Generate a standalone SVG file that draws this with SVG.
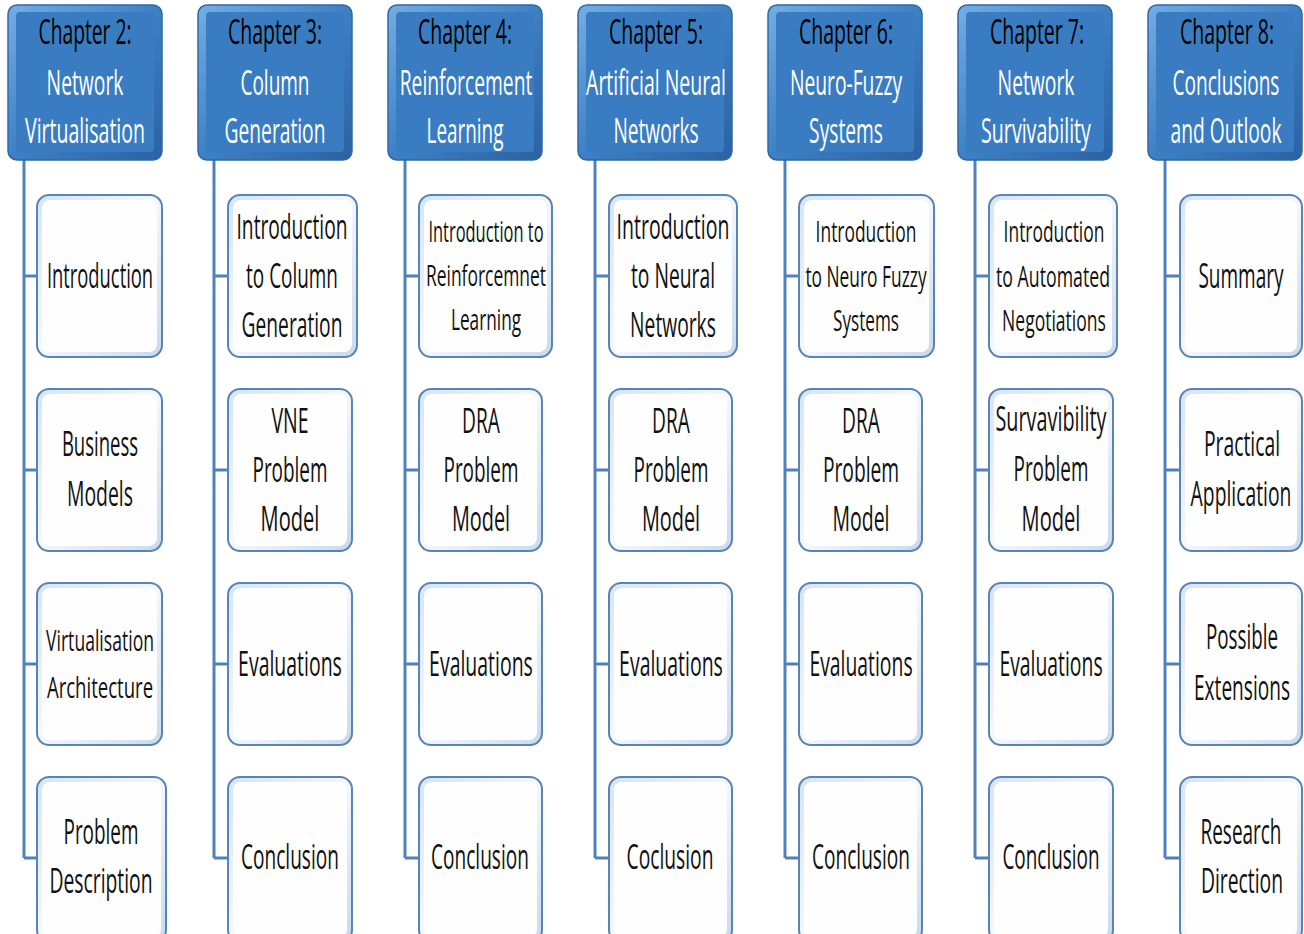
<svg xmlns="http://www.w3.org/2000/svg" width="1304" height="934" viewBox="0 0 1304 934">
<defs>
<linearGradient id="hg" x1="0" y1="0" x2="1" y2="1">
<stop offset="0" stop-color="#74aee3"/>
<stop offset="0.5" stop-color="#3d80c4"/>
<stop offset="1" stop-color="#2a62a3"/>
</linearGradient>
<linearGradient id="cg" x1="0" y1="0" x2="1" y2="1">
<stop offset="0" stop-color="#d6e4f3"/>
<stop offset="0.5" stop-color="#f4f8fc"/>
<stop offset="1" stop-color="#c9d9ec"/>
</linearGradient>
</defs>
<style>
.ho{fill:url(#hg);stroke:#2f68a8;stroke-width:1.5}
.hi{fill:#3a7cc1}
.co{fill:url(#cg);stroke:#5a84b6;stroke-width:2}
.ci{fill:#fefefe}
.t{font-family:"Open Sans","Liberation Sans",sans-serif;font-size:34px;text-anchor:middle;fill:#111}
.s{font-size:30px}
.w{fill:#fff}
.k{fill:#000}
.ln{stroke:#4f81bd;stroke-width:3;fill:none}
</style>
<rect width="1304" height="934" fill="#fff"/>
<g id="connectors">
<path class="ln" d="M24 160V858M24 276H37M24 470H37M24 664H37M24 858H37"/>
<path class="ln" d="M214 160V858M214 276H228M214 470H228M214 664H228M214 858H228"/>
<path class="ln" d="M405 160V858M405 276H419M405 470H419M405 664H419M405 858H419"/>
<path class="ln" d="M595 160V858M595 276H609M595 470H609M595 664H609M595 858H609"/>
<path class="ln" d="M785 160V858M785 276H799M785 470H799M785 664H799M785 858H799"/>
<path class="ln" d="M975 160V858M975 276H989M975 470H989M975 664H989M975 858H989"/>
<path class="ln" d="M1165 160V858M1165 276H1180M1165 470H1180M1165 664H1180M1165 858H1180"/>
</g>
<!-- Headers -->
<g id="h2"><rect class="ho" x="8" y="5" width="154" height="155" rx="9"/><rect class="hi" x="16" y="12" width="138" height="140" rx="4"/>
<text class="t k" transform="matrix(0.6 0 0 1 85 0)" y="44" textLength="155" lengthAdjust="spacingAndGlyphs">Chapter 2:</text>
<text class="t w" transform="matrix(0.6 0 0 1 85 0)" y="95" textLength="128" lengthAdjust="spacingAndGlyphs">Network</text>
<text class="t w" transform="matrix(0.6 0 0 1 85 0)" y="143" textLength="200" lengthAdjust="spacingAndGlyphs">Virtualisation</text></g>
<g id="h3"><rect class="ho" x="198" y="5" width="154" height="155" rx="9"/><rect class="hi" x="206" y="12" width="138" height="140" rx="4"/>
<text class="t k" transform="matrix(0.6 0 0 1 275 0)" y="44" textLength="157" lengthAdjust="spacingAndGlyphs">Chapter 3:</text>
<text class="t w" transform="matrix(0.6 0 0 1 275 0)" y="95" textLength="115" lengthAdjust="spacingAndGlyphs">Column</text>
<text class="t w" transform="matrix(0.6 0 0 1 275 0)" y="143" textLength="168" lengthAdjust="spacingAndGlyphs">Generation</text></g>
<g id="h4"><rect class="ho" x="388" y="5" width="154" height="155" rx="9"/><rect class="hi" x="396" y="12" width="138" height="140" rx="4"/>
<text class="t k" transform="matrix(0.6 0 0 1 465 0)" y="44" textLength="157" lengthAdjust="spacingAndGlyphs">Chapter 4:</text>
<text class="t w" transform="matrix(0.6 0 0 1 466 0)" y="95" textLength="221" lengthAdjust="spacingAndGlyphs">Reinforcement</text>
<text class="t w" transform="matrix(0.6 0 0 1 465 0)" y="143" textLength="128" lengthAdjust="spacingAndGlyphs">Learning</text></g>
<g id="h5"><rect class="ho" x="578" y="5" width="154" height="155" rx="9"/><rect class="hi" x="586" y="12" width="138" height="140" rx="4"/>
<text class="t k" transform="matrix(0.6 0 0 1 656 0)" y="44" textLength="157" lengthAdjust="spacingAndGlyphs">Chapter 5:</text>
<text class="t w" transform="matrix(0.6 0 0 1 656 0)" y="95" textLength="233" lengthAdjust="spacingAndGlyphs">Artificial Neural</text>
<text class="t w" transform="matrix(0.6 0 0 1 656 0)" y="143" textLength="142" lengthAdjust="spacingAndGlyphs">Networks</text></g>
<g id="h6"><rect class="ho" x="768" y="5" width="154" height="155" rx="9"/><rect class="hi" x="776" y="12" width="138" height="140" rx="4"/>
<text class="t k" transform="matrix(0.6 0 0 1 846 0)" y="44" textLength="157" lengthAdjust="spacingAndGlyphs">Chapter 6:</text>
<text class="t w" transform="matrix(0.6 0 0 1 846 0)" y="95" textLength="187" lengthAdjust="spacingAndGlyphs">Neuro-Fuzzy</text>
<text class="t w" transform="matrix(0.6 0 0 1 846 0)" y="143" textLength="123" lengthAdjust="spacingAndGlyphs">Systems</text></g>
<g id="h7"><rect class="ho" x="958" y="5" width="154" height="155" rx="9"/><rect class="hi" x="966" y="12" width="138" height="140" rx="4"/>
<text class="t k" transform="matrix(0.6 0 0 1 1037 0)" y="44" textLength="157" lengthAdjust="spacingAndGlyphs">Chapter 7:</text>
<text class="t w" transform="matrix(0.6 0 0 1 1036 0)" y="95" textLength="128" lengthAdjust="spacingAndGlyphs">Network</text>
<text class="t w" transform="matrix(0.6 0 0 1 1036 0)" y="143" textLength="183" lengthAdjust="spacingAndGlyphs">Survivability</text></g>
<g id="h8"><rect class="ho" x="1148" y="5" width="154" height="155" rx="9"/><rect class="hi" x="1156" y="12" width="138" height="140" rx="4"/>
<text class="t k" transform="matrix(0.6 0 0 1 1227 0)" y="44" textLength="157" lengthAdjust="spacingAndGlyphs">Chapter 8:</text>
<text class="t w" transform="matrix(0.6 0 0 1 1226 0)" y="95" textLength="178" lengthAdjust="spacingAndGlyphs">Conclusions</text>
<text class="t w" transform="matrix(0.6 0 0 1 1226 0)" y="143" textLength="185" lengthAdjust="spacingAndGlyphs">and Outlook</text></g>
<!-- Column 1 children -->
<g id="c2-1"><rect class="co" x="37" y="195" width="125" height="162" rx="12"/><rect class="ci" x="42" y="200" width="115" height="152" rx="8"/>
<text class="t" transform="matrix(0.6 0 0 1 100 0)" y="288" textLength="177" lengthAdjust="spacingAndGlyphs">Introduction</text></g>
<g id="c2-2"><rect class="co" x="37" y="389" width="125" height="162" rx="12"/><rect class="ci" x="42" y="394" width="115" height="152" rx="8"/>
<text class="t" transform="matrix(0.6 0 0 1 100 0)" y="456" textLength="127" lengthAdjust="spacingAndGlyphs">Business</text>
<text class="t" transform="matrix(0.6 0 0 1 100 0)" y="506" textLength="110" lengthAdjust="spacingAndGlyphs">Models</text></g>
<g id="c2-3"><rect class="co" x="37" y="583" width="125" height="162" rx="12"/><rect class="ci" x="42" y="588" width="115" height="152" rx="8"/>
<text class="t s" transform="matrix(0.6 0 0 1 100 0)" y="651" textLength="180" lengthAdjust="spacingAndGlyphs">Virtualisation</text>
<text class="t s" transform="matrix(0.6 0 0 1 100 0)" y="698" textLength="177" lengthAdjust="spacingAndGlyphs">Architecture</text></g>
<g id="c2-4"><rect class="co" x="37" y="777" width="129" height="165" rx="12"/><rect class="ci" x="42" y="782" width="119" height="155" rx="8"/>
<text class="t" transform="matrix(0.6 0 0 1 101 0)" y="844" textLength="125" lengthAdjust="spacingAndGlyphs">Problem</text>
<text class="t" transform="matrix(0.6 0 0 1 101 0)" y="893" textLength="172" lengthAdjust="spacingAndGlyphs">Description</text></g>
<!-- Column 2 children -->
<g id="c3-1"><rect class="co" x="228" y="195" width="129" height="162" rx="12"/><rect class="ci" x="233" y="200" width="119" height="152" rx="8"/>
<text class="t" transform="matrix(0.6 0 0 1 292 0)" y="239" textLength="185" lengthAdjust="spacingAndGlyphs">Introduction</text>
<text class="t" transform="matrix(0.6 0 0 1 292 0)" y="288" textLength="153" lengthAdjust="spacingAndGlyphs">to Column</text>
<text class="t" transform="matrix(0.6 0 0 1 292 0)" y="337" textLength="168" lengthAdjust="spacingAndGlyphs">Generation</text></g>
<g id="c3-2"><rect class="co" x="228" y="389" width="124" height="162" rx="12"/><rect class="ci" x="233" y="394" width="114" height="152" rx="8"/>
<text class="t" transform="matrix(0.6 0 0 1 290 0)" y="433" textLength="62" lengthAdjust="spacingAndGlyphs">VNE</text>
<text class="t" transform="matrix(0.6 0 0 1 290 0)" y="482" textLength="125" lengthAdjust="spacingAndGlyphs">Problem</text>
<text class="t" transform="matrix(0.6 0 0 1 290 0)" y="531" textLength="98" lengthAdjust="spacingAndGlyphs">Model</text></g>
<g id="c3-3"><rect class="co" x="228" y="583" width="124" height="162" rx="12"/><rect class="ci" x="233" y="588" width="114" height="152" rx="8"/>
<text class="t" transform="matrix(0.6 0 0 1 290 0)" y="676" textLength="173" lengthAdjust="spacingAndGlyphs">Evaluations</text></g>
<g id="c3-4"><rect class="co" x="228" y="777" width="124" height="165" rx="12"/><rect class="ci" x="233" y="782" width="114" height="155" rx="8"/>
<text class="t" transform="matrix(0.6 0 0 1 290 0)" y="869" textLength="163" lengthAdjust="spacingAndGlyphs">Conclusion</text></g>
<!-- Column 3 children -->
<g id="c4-1"><rect class="co" x="419" y="195" width="133" height="162" rx="12"/><rect class="ci" x="424" y="200" width="123" height="152" rx="8"/>
<text class="t s" transform="matrix(0.6 0 0 1 486 0)" y="242" textLength="192" lengthAdjust="spacingAndGlyphs">Introduction to</text>
<text class="t s" transform="matrix(0.6 0 0 1 486 0)" y="286" textLength="200" lengthAdjust="spacingAndGlyphs">Reinforcemnet</text>
<text class="t s" transform="matrix(0.6 0 0 1 486 0)" y="330" textLength="117" lengthAdjust="spacingAndGlyphs">Learning</text></g>
<g id="c4-2"><rect class="co" x="419" y="389" width="123" height="162" rx="12"/><rect class="ci" x="424" y="394" width="113" height="152" rx="8"/>
<text class="t" transform="matrix(0.6 0 0 1 481 0)" y="433" textLength="63" lengthAdjust="spacingAndGlyphs">DRA</text>
<text class="t" transform="matrix(0.6 0 0 1 481 0)" y="482" textLength="125" lengthAdjust="spacingAndGlyphs">Problem</text>
<text class="t" transform="matrix(0.6 0 0 1 481 0)" y="531" textLength="97" lengthAdjust="spacingAndGlyphs">Model</text></g>
<g id="c4-3"><rect class="co" x="419" y="583" width="123" height="162" rx="12"/><rect class="ci" x="424" y="588" width="113" height="152" rx="8"/>
<text class="t" transform="matrix(0.6 0 0 1 481 0)" y="676" textLength="173" lengthAdjust="spacingAndGlyphs">Evaluations</text></g>
<g id="c4-4"><rect class="co" x="419" y="777" width="123" height="165" rx="12"/><rect class="ci" x="424" y="782" width="113" height="155" rx="8"/>
<text class="t" transform="matrix(0.6 0 0 1 480 0)" y="869" textLength="163" lengthAdjust="spacingAndGlyphs">Conclusion</text></g>
<!-- Column 4 children -->
<g id="c5-1"><rect class="co" x="609" y="195" width="128" height="162" rx="12"/><rect class="ci" x="614" y="200" width="118" height="152" rx="8"/>
<text class="t" transform="matrix(0.6 0 0 1 673 0)" y="239" textLength="188" lengthAdjust="spacingAndGlyphs">Introduction</text>
<text class="t" transform="matrix(0.6 0 0 1 673 0)" y="288" textLength="140" lengthAdjust="spacingAndGlyphs">to Neural</text>
<text class="t" transform="matrix(0.6 0 0 1 673 0)" y="337" textLength="143" lengthAdjust="spacingAndGlyphs">Networks</text></g>
<g id="c5-2"><rect class="co" x="609" y="389" width="123" height="162" rx="12"/><rect class="ci" x="614" y="394" width="113" height="152" rx="8"/>
<text class="t" transform="matrix(0.6 0 0 1 671 0)" y="433" textLength="63" lengthAdjust="spacingAndGlyphs">DRA</text>
<text class="t" transform="matrix(0.6 0 0 1 671 0)" y="482" textLength="125" lengthAdjust="spacingAndGlyphs">Problem</text>
<text class="t" transform="matrix(0.6 0 0 1 671 0)" y="531" textLength="97" lengthAdjust="spacingAndGlyphs">Model</text></g>
<g id="c5-3"><rect class="co" x="609" y="583" width="123" height="162" rx="12"/><rect class="ci" x="614" y="588" width="113" height="152" rx="8"/>
<text class="t" transform="matrix(0.6 0 0 1 671 0)" y="676" textLength="173" lengthAdjust="spacingAndGlyphs">Evaluations</text></g>
<g id="c5-4"><rect class="co" x="609" y="777" width="123" height="165" rx="12"/><rect class="ci" x="614" y="782" width="113" height="155" rx="8"/>
<text class="t" transform="matrix(0.6 0 0 1 670 0)" y="869" textLength="145" lengthAdjust="spacingAndGlyphs">Coclusion</text></g>
<!-- Column 5 children -->
<g id="c6-1"><rect class="co" x="799" y="195" width="135" height="162" rx="12"/><rect class="ci" x="804" y="200" width="125" height="152" rx="8"/>
<text class="t s" transform="matrix(0.6 0 0 1 866 0)" y="242" textLength="168" lengthAdjust="spacingAndGlyphs">Introduction</text>
<text class="t s" transform="matrix(0.6 0 0 1 866 0)" y="287" textLength="202" lengthAdjust="spacingAndGlyphs">to Neuro Fuzzy</text>
<text class="t s" transform="matrix(0.6 0 0 1 866 0)" y="331" textLength="110" lengthAdjust="spacingAndGlyphs">Systems</text></g>
<g id="c6-2"><rect class="co" x="799" y="389" width="123" height="162" rx="12"/><rect class="ci" x="804" y="394" width="113" height="152" rx="8"/>
<text class="t" transform="matrix(0.6 0 0 1 861 0)" y="433" textLength="63" lengthAdjust="spacingAndGlyphs">DRA</text>
<text class="t" transform="matrix(0.6 0 0 1 861 0)" y="482" textLength="127" lengthAdjust="spacingAndGlyphs">Problem</text>
<text class="t" transform="matrix(0.6 0 0 1 861 0)" y="531" textLength="95" lengthAdjust="spacingAndGlyphs">Model</text></g>
<g id="c6-3"><rect class="co" x="799" y="583" width="123" height="162" rx="12"/><rect class="ci" x="804" y="588" width="113" height="152" rx="8"/>
<text class="t" transform="matrix(0.6 0 0 1 861 0)" y="676" textLength="172" lengthAdjust="spacingAndGlyphs">Evaluations</text></g>
<g id="c6-4"><rect class="co" x="799" y="777" width="123" height="165" rx="12"/><rect class="ci" x="804" y="782" width="113" height="155" rx="8"/>
<text class="t" transform="matrix(0.6 0 0 1 861 0)" y="869" textLength="163" lengthAdjust="spacingAndGlyphs">Conclusion</text></g>
<!-- Column 6 children -->
<g id="c7-1"><rect class="co" x="989" y="195" width="128" height="162" rx="12"/><rect class="ci" x="994" y="200" width="118" height="152" rx="8"/>
<text class="t s" transform="matrix(0.6 0 0 1 1054 0)" y="242" textLength="168" lengthAdjust="spacingAndGlyphs">Introduction</text>
<text class="t s" transform="matrix(0.6 0 0 1 1053 0)" y="287" textLength="190" lengthAdjust="spacingAndGlyphs">to Automated</text>
<text class="t s" transform="matrix(0.6 0 0 1 1054 0)" y="331" textLength="173" lengthAdjust="spacingAndGlyphs">Negotiations</text></g>
<g id="c7-2"><rect class="co" x="989" y="389" width="124" height="162" rx="12"/><rect class="ci" x="994" y="394" width="114" height="152" rx="8"/>
<text class="t" transform="matrix(0.6 0 0 1 1051 0)" y="431" textLength="185" lengthAdjust="spacingAndGlyphs">Survavibility</text>
<text class="t" transform="matrix(0.6 0 0 1 1051 0)" y="481" textLength="125" lengthAdjust="spacingAndGlyphs">Problem</text>
<text class="t" transform="matrix(0.6 0 0 1 1051 0)" y="531" textLength="98" lengthAdjust="spacingAndGlyphs">Model</text></g>
<g id="c7-3"><rect class="co" x="989" y="583" width="124" height="162" rx="12"/><rect class="ci" x="994" y="588" width="114" height="152" rx="8"/>
<text class="t" transform="matrix(0.6 0 0 1 1051 0)" y="676" textLength="172" lengthAdjust="spacingAndGlyphs">Evaluations</text></g>
<g id="c7-4"><rect class="co" x="989" y="777" width="124" height="165" rx="12"/><rect class="ci" x="994" y="782" width="114" height="155" rx="8"/>
<text class="t" transform="matrix(0.6 0 0 1 1051 0)" y="869" textLength="162" lengthAdjust="spacingAndGlyphs">Conclusion</text></g>
<!-- Column 7 children -->
<g id="c8-1"><rect class="co" x="1180" y="195" width="122" height="162" rx="12"/><rect class="ci" x="1185" y="200" width="112" height="152" rx="8"/>
<text class="t" transform="matrix(0.6 0 0 1 1241 0)" y="288" textLength="142" lengthAdjust="spacingAndGlyphs">Summary</text></g>
<g id="c8-2"><rect class="co" x="1180" y="389" width="122" height="162" rx="12"/><rect class="ci" x="1185" y="394" width="112" height="152" rx="8"/>
<text class="t" transform="matrix(0.6 0 0 1 1242 0)" y="456" textLength="127" lengthAdjust="spacingAndGlyphs">Practical</text>
<text class="t" transform="matrix(0.6 0 0 1 1241 0)" y="506" textLength="168" lengthAdjust="spacingAndGlyphs">Application</text></g>
<g id="c8-3"><rect class="co" x="1180" y="583" width="122" height="162" rx="12"/><rect class="ci" x="1185" y="588" width="112" height="152" rx="8"/>
<text class="t" transform="matrix(0.6 0 0 1 1242 0)" y="649" textLength="120" lengthAdjust="spacingAndGlyphs">Possible</text>
<text class="t" transform="matrix(0.6 0 0 1 1242 0)" y="700" textLength="160" lengthAdjust="spacingAndGlyphs">Extensions</text></g>
<g id="c8-4"><rect class="co" x="1180" y="777" width="122" height="165" rx="12"/><rect class="ci" x="1185" y="782" width="112" height="155" rx="8"/>
<text class="t" transform="matrix(0.6 0 0 1 1241 0)" y="844" textLength="135" lengthAdjust="spacingAndGlyphs">Research</text>
<text class="t" transform="matrix(0.6 0 0 1 1242 0)" y="893" textLength="137" lengthAdjust="spacingAndGlyphs">Direction</text></g>
</svg>
